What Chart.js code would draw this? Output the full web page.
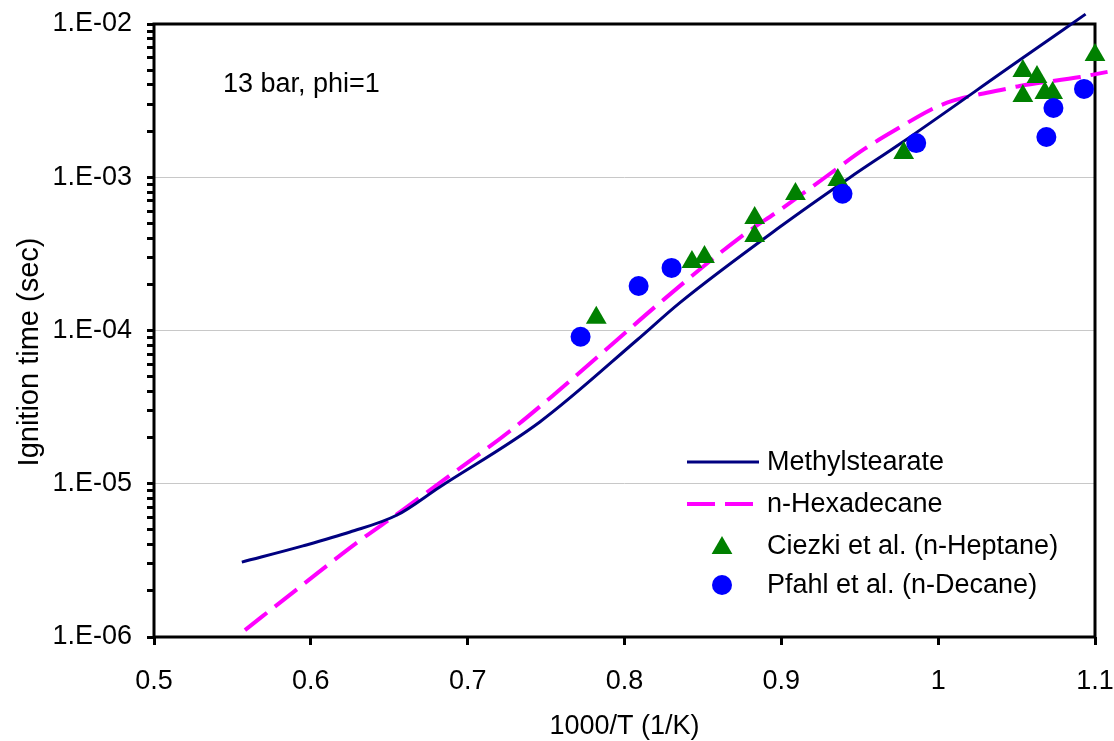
<!DOCTYPE html>
<html>
<head>
<meta charset="utf-8">
<script src="https://cdn.jsdelivr.net/npm/chart.js@4.4.1/dist/chart.umd.min.js"></script>
<style>
  html, body { margin: 0; padding: 0; background: #fff; }
  canvas { display: block; }
</style>
</head>
<body>
<canvas id="ignitionChart" width="1114" height="741"></canvas>
<script>
  // Methylstearate model (solid line)
  const methylX = [0.556, 0.595, 0.625, 0.655, 0.682, 0.746, 0.808, 0.835, 0.899, 0.944, 0.976, 1.052, 1.094];
  const methylY = [3.08e-6, 3.93e-6, 4.84e-6, 6.25e-6, 9.5e-6, 2.53e-5, 8.67e-5, 1.51e-4, 4.73e-4, 1.0e-3, 1.66e-3, 5.82e-3, 1.16e-2];

  // n-Hexadecane model (dashed line)
  const hexX = [0.558, 0.593, 0.629, 0.657, 0.682, 0.727, 0.757, 0.793, 0.821, 0.874, 0.899, 0.928, 0.953, 0.976, 0.995, 1.009, 1.024, 1.040, 1.052, 1.0905, 1.108];
  const hexY = [1.11e-6, 2.12e-6, 4.10e-6, 6.55e-6, 1.01e-5, 2.21e-5, 3.97e-5, 8.28e-5, 1.47e-4, 4.07e-4, 6.11e-4, 1.0e-3, 1.53e-3, 2.13e-3, 2.75e-3, 3.15e-3, 3.44e-3, 3.71e-3, 3.94e-3, 4.51e-3, 4.87e-3];

  // Ciezki et al. shock tube data (n-heptane)
  const ciezkiX = [0.782, 0.843, 0.851, 0.883, 0.883, 0.909, 0.936, 0.978, 1.054, 1.054, 1.063, 1.068, 1.073, 1.100];
  const ciezkiY = [1.21e-4, 2.80e-4, 3.02e-4, 5.42e-4, 4.14e-4, 7.78e-4, 9.6e-4, 1.44e-3, 4.93e-3, 3.39e-3, 4.51e-3, 3.55e-3, 3.55e-3, 6.28e-3];

  // Pfahl et al. data (n-decane)
  const pfahlX = [0.772, 0.809, 0.830, 0.939, 0.986, 1.069, 1.0735, 1.093];
  const pfahlY = [9.1e-5, 1.95e-4, 2.56e-4, 7.8e-4, 1.67e-3, 1.83e-3, 2.83e-3, 3.77e-3];

  // axis ticks
  const xTickValues = [0.5, 0.6, 0.7, 0.8, 0.9, 1.0, 1.1];
  const xTickLabels = ['0.5', '0.6', '0.7', '0.8', '0.9', '1', '1.1'];
  const yDecades = [1e-6, 1e-5, 1e-4, 1e-3, 1e-2];
  const yDecadeLabels = ['1.E-06', '1.E-05', '1.E-04', '1.E-03', '1.E-02'];

  const FONT = "'Liberation Sans', Arial, sans-serif";

  function toPoints(xs, ys) {
    return xs.map((x, i) => ({ x: x, y: ys[i] }));
  }

  function decadeIndex(v) {
    return yDecades.findIndex(d => Math.abs(v - d) / d < 1e-6);
  }

  function noPadding(scale) {
    scale.paddingTop = 0;
    scale.paddingBottom = 0;
    scale.paddingLeft = 0;
    scale.paddingRight = 0;
  }

  // frame, annotation, axis titles and the legend inside the plot
  const decorations = {
    id: 'decorations',
    beforeDatasetsDraw(chart) {
      const { ctx, chartArea: a } = chart;
      ctx.save();
      ctx.strokeStyle = '#000';
      ctx.lineWidth = 3;
      ctx.strokeRect(a.left, a.top, a.right - a.left, a.bottom - a.top);
      ctx.restore();
    },
    afterDraw(chart) {
      const { ctx, chartArea: a } = chart;
      const ds = chart.data.datasets;
      ctx.save();
      ctx.fillStyle = '#000';
      ctx.font = '27px ' + FONT;
      ctx.textBaseline = 'alphabetic';

      ctx.textAlign = 'left';
      ctx.fillText('13 bar, phi=1', 223, 92);

      ctx.textAlign = 'center';
      ctx.fillText('1000/T (1/K)', (a.left + a.right) / 2, 734);

      ctx.save();
      ctx.font = '29px ' + FONT;
      ctx.translate(38, 352);
      ctx.rotate(-Math.PI / 2);
      ctx.fillText('Ignition time (sec)', 0, 0);
      ctx.restore();

      // legend
      const textX = 767;
      const rows = [470, 512, 554, 593];
      ctx.textAlign = 'left';
      ds.forEach((d, i) => {
        const base = rows[i];
        const cy = base - 8;
        if (d.showLine) {
          ctx.save();
          ctx.strokeStyle = d.borderColor;
          ctx.lineWidth = d.borderWidth;
          ctx.setLineDash(d.borderDash || []);
          ctx.beginPath();
          ctx.moveTo(687, cy);
          ctx.lineTo(759, cy);
          ctx.stroke();
          ctx.restore();
        } else {
          ctx.fillStyle = d.backgroundColor;
          ctx.beginPath();
          if (d.pointStyle === 'triangle') {
            const r = d.pointRadius, my = cy + 2;
            ctx.moveTo(722, my - r);
            ctx.lineTo(722 + r * Math.sqrt(3) / 2, my + r / 2);
            ctx.lineTo(722 - r * Math.sqrt(3) / 2, my + r / 2);
            ctx.closePath();
          } else {
            ctx.arc(722, cy, d.pointRadius, 0, Math.PI * 2);
          }
          ctx.fill();
        }
        ctx.fillStyle = '#000';
        ctx.fillText(d.label, textX, base);
      });
      ctx.restore();
    }
  };

  new Chart(document.getElementById('ignitionChart'), {
    type: 'scatter',
    data: {
      datasets: [
        {
          label: 'Methylstearate',
          data: toPoints(methylX, methylY),
          showLine: true,
          borderColor: '#000080',
          borderWidth: 3,
          pointRadius: 0,
          cubicInterpolationMode: 'monotone',
          clip: false,
          order: 2
        },
        {
          label: 'n-Hexadecane',
          data: toPoints(hexX, hexY),
          showLine: true,
          borderColor: '#FF00FF',
          borderWidth: 4,
          borderDash: [28, 10],
          pointRadius: 0,
          cubicInterpolationMode: 'monotone',
          clip: false,
          order: 2
        },
        {
          label: 'Ciezki et al. (n-Heptane)',
          data: toPoints(ciezkiX, ciezkiY),
          showLine: false,
          pointStyle: 'triangle',
          pointRadius: 12,
          pointBorderWidth: 0,
          backgroundColor: '#008000',
          borderColor: '#008000',
          clip: false,
          order: 1
        },
        {
          label: 'Pfahl et al. (n-Decane)',
          data: toPoints(pfahlX, pfahlY),
          showLine: false,
          pointStyle: 'circle',
          pointRadius: 10,
          pointBorderWidth: 0,
          backgroundColor: '#0000FF',
          borderColor: '#0000FF',
          clip: false,
          order: 0
        }
      ]
    },
    options: {
      responsive: false,
      animation: false,
      events: [],
      layout: { padding: { top: 24, right: 19, left: 0, bottom: 0 } },
      plugins: {
        legend: { display: false },
        tooltip: { enabled: false }
      },
      scales: {
        x: {
          type: 'linear',
          min: 0.5,
          max: 1.1,
          afterFit(scale) { scale.height = 104; noPadding(scale); },
          afterBuildTicks(scale) {
            scale.ticks = xTickValues.map(v => ({ value: v }));
          },
          ticks: {
            autoSkip: false,
            maxRotation: 0,
            padding: 20,
            color: '#000',
            font: { family: FONT, size: 27 },
            callback: (v, i) => xTickLabels[i]
          },
          grid: {
            drawOnChartArea: false,
            tickLength: 8,
            tickWidth: 3,
            tickColor: '#000'
          },
          border: { display: false }
        },
        y: {
          type: 'logarithmic',
          min: 1e-6,
          max: 1e-2,
          afterFit(scale) { scale.width = 154; noPadding(scale); },
          afterBuildTicks(scale) {
            const ticks = [];
            for (let i = 0; i < yDecades.length - 1; i++) {
              for (let m = 1; m <= 9; m++) ticks.push({ value: m * yDecades[i] });
            }
            ticks.push({ value: yDecades[yDecades.length - 1] });
            scale.ticks = ticks;
          },
          ticks: {
            autoSkip: false,
            padding: 15,
            color: '#000',
            font: { family: FONT, size: 27 },
            callback: (v) => {
              const k = decadeIndex(v);
              return k >= 0 ? yDecadeLabels[k] : '';
            }
          },
          grid: {
            color: (c) => (c.tick && decadeIndex(c.tick.value) >= 0 ? '#c8c8c8' : 'rgba(0,0,0,0)'),
            lineWidth: 1,
            tickLength: 7,
            tickWidth: 3,
            tickColor: '#000'
          },
          border: { display: false }
        }
      }
    },
    plugins: [decorations]
  });
</script>
</body>
</html>
